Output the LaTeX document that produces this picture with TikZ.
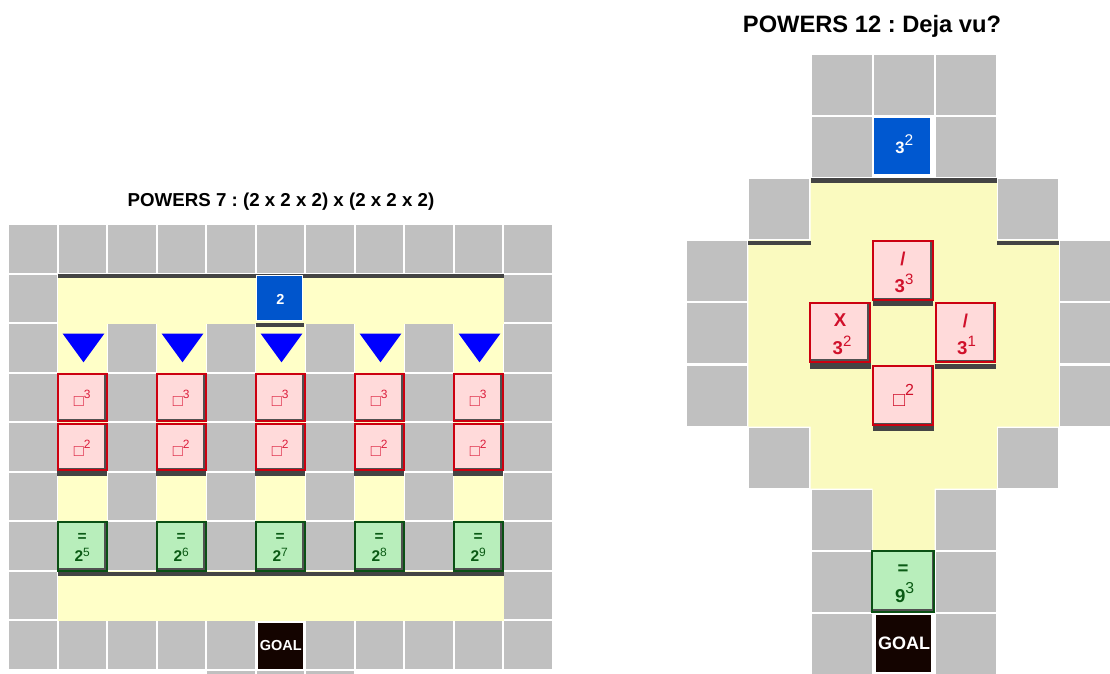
\documentclass[tikz,border=0pt]{standalone}
\usepackage{fontspec}
\setmainfont{Liberation Sans}
\frenchspacing
\definecolor{cellg}{HTML}{C0C0C0}
\definecolor{yelL}{HTML}{FFFFC8}
\definecolor{yelR}{HTML}{FAFABF}
\definecolor{darkl}{HTML}{444444}
\definecolor{bevelc}{HTML}{505050}
\definecolor{pinkf}{HTML}{FFDADA}
\definecolor{redb}{HTML}{CC0010}
\definecolor{redL}{HTML}{DC1E3C}
\definecolor{redR}{HTML}{D0102A}
\definecolor{greenf}{HTML}{B8EEBB}
\definecolor{greenb}{HTML}{0A5014}
\definecolor{greenT}{HTML}{0A5A14}
\definecolor{blueL}{HTML}{0055CC}
\definecolor{blueR}{HTML}{0058D0}
\definecolor{triC}{HTML}{0000FF}
\definecolor{goalC}{HTML}{140400}
\newcommand{\fs}[1]{\fontsize{#1}{#1}\selectfont}
\newcommand{\pwr}[5]{{\fs{#1}\bfseries #2}\raisebox{#3}{\fs{#4}#5}}
\newcommand{\sqp}[4]{{\fs{#1}□}\raisebox{#2}{\fs{#3}#4}}
\tikzset{
  tile/.style={rectangle, inner sep=0pt, line width=2pt,
    path picture={\draw[bevelc, line width=5pt] (path picture bounding box.south west) -- (path picture bounding box.south east) -- (path picture bounding box.north east);}},
  pinktile/.style={tile, fill=pinkf, draw=redb},
  greentile/.style={tile, fill=greenf, draw=greenb},
  bluetile/.style={rectangle, inner sep=0pt, fill=#1, draw=white, line width=1pt},
  goaltile/.style={rectangle, inner sep=0pt, fill=goalC},
  lbl/.style={anchor=base, inner sep=0pt},
  cell/.style={fill=cellg},
  shadow/.style={fill=darkl}
}
\begin{document}
\begin{tikzpicture}[x=1pt,y=-1pt]
\useasboundingbox (0,0) rectangle (1110,673);
\clip (0,0) rectangle (1110,673);

% ================= LEFT PUZZLE =================
\node[lbl] (titleL) at (281,206.5) {\fs{18.7}\bfseries POWERS 7 : (2 x 2 x 2) x (2 x 2 x 2)};

% yellow floor
\fill[yelL] (57.5,274) rectangle (503.5,323.5);
\fill[yelL] (57.5,571) rectangle (503.5,620.5);
\foreach \c in {1,3,5,7,9} \fill[yelL] ({8+\c*49.5},323) rectangle ({57.5+\c*49.5},572);

% gray cells
\foreach \c in {0,...,10} \fill[cell] ({9+\c*49.5},225) rectangle ++(47.5,47.5);
\foreach \r in {1,...,7} {
  \fill[cell] (9,{225+\r*49.5}) rectangle ++(47.5,47.5);
  \fill[cell] (504,{225+\r*49.5}) rectangle ++(47.5,47.5);
}
\foreach \r in {2,...,6} \foreach \c in {2,4,6,8} \fill[cell] ({9+\c*49.5},{225+\r*49.5}) rectangle ++(47.5,47.5);
\foreach \c in {0,1,2,3,4,6,7,8,9,10} \fill[cell] ({9+\c*49.5},621) rectangle ++(47.5,47.5);
\foreach \c in {4,5,6} \fill[cell] ({9+\c*49.5},671) rectangle ++(47.5,3);

% walls
\fill[shadow] (57.5,274) rectangle (503.5,277.5);

% blue start tile
\node[bluetile=blueL, minimum width=46.3pt, minimum height=45.6pt] (bL) at (279.65,298) {};
\fill[shadow] (256,323) rectangle (304,327.3);
\node[lbl, text=white] (bLt) at (280.5,304.7) {\fs{14.5}\bfseries 2};

% columns
\foreach \c/\e in {1/5,3/6,5/7,7/8,9/9} {
  \pgfmathsetmacro\xx{9+\c*49.5}
  \pgfmathsetmacro\mm{\xx+23.75}
  \fill[triC] ({\xx+4.2},333.7) -- ({\xx+45.8},333.7) -- ({\xx+25},362.3) -- cycle;
  \node[pinktile, minimum width=48.5pt, minimum height=47.5pt] (pa\c) at (\mm,397.5) {};
  \node[pinktile, minimum width=48.5pt, minimum height=46.5pt] (pb\c) at (\mm,447.2) {};
  \fill[shadow] ({\xx-1.2},471.3) rectangle ({\xx+48.5},476.3);
  \node[lbl, text=redL] (pat\c) at (\mm,406.3) {\sqp{16.5}{8.3pt}{12}{3}};
  \node[lbl, text=redL] (pbt\c) at (\mm,456.3) {\sqp{16.5}{8.3pt}{12}{2}};
  \node[greentile, minimum width=48.5pt, minimum height=48.2pt] (g\c) at (\mm,546.4) {};
  \node[lbl, text=greenT] (ge\c) at (\mm,541.7) {\fs{15.5}\bfseries =};
  \node[lbl, text=greenT] (gp\c) at (\mm,561.7) {\pwr{15.5}{2}{5pt}{12}{\e}};
}
\fill[shadow] (57.5,572) rectangle (503.5,575.5);

% goal
\node[goaltile, minimum width=44.4pt, minimum height=45.7pt] (goalL) at (280.5,646.15) {};
\node[lbl, text=white] (goalLt) at (280.8,650.7) {\fs{14.5}\bfseries GOAL};

% ================= RIGHT PUZZLE =================
\node[lbl] (titleR) at (872,32) {\fs{23.7}\bfseries POWERS 12 : Deja vu?};

\fill[yelR] (810.5,178.2) -- (996.8,178.2) -- (996.8,240.3) -- (1058.9,240.3) -- (1058.9,426.6)
  -- (996.8,426.6) -- (996.8,488.7) -- (934.7,488.7) -- (934.7,550.8) -- (872.6,550.8)
  -- (872.6,488.7) -- (810.5,488.7) -- (810.5,426.6) -- (748.4,426.6) -- (748.4,240.3)
  -- (810.5,240.3) -- cycle;

\foreach \c/\r in {2/0,3/0,4/0, 2/1,4/1, 1/2,5/2, 0/3,6/3,0/4,6/4,0/5,6/5, 1/6,5/6, 2/7,4/7,2/8,4/8,2/9,4/9}
  \fill[cell] ({687.3+\c*62.1},{55+\r*62.1}) rectangle ++(60,60);

\fill[shadow] (810.5,178.3) rectangle (996.8,182.7);
\fill[shadow] (748.4,240.5) rectangle (810.5,244.8);
\fill[shadow] (996.8,240.5) rectangle (1058.9,244.8);

\node[bluetile=blueR, minimum width=56.7pt, minimum height=56.7pt] (bR) at (902.2,146.2) {};
\node[lbl, text=white] (bRt) at (904.3,153.3) {\pwr{16.5}{3}{8.3pt}{15.5}{2}};

\node[pinktile, minimum width=60pt, minimum height=59pt] (t1) at (902.85,270.85) {};
\fill[shadow] (872.7,301.4) rectangle (933.3,306);
\node[pinktile, minimum width=60pt, minimum height=59pt] (t2) at (839.85,332.35) {};
\fill[shadow] (810,363) rectangle (870.7,369.3);
\node[pinktile, minimum width=59pt, minimum height=59pt] (t3) at (965.5,332.5) {};
\fill[shadow] (935,363.5) rectangle (996,369.3);
\node[pinktile, minimum width=60pt, minimum height=59.5pt] (t4) at (903,395.25) {};
\fill[shadow] (872.5,426) rectangle (933.5,431);

\node[lbl, text=redR] (t1a) at (903,265.5) {\fs{18.6}\bfseries /};
\node[lbl, text=redR] (t1b) at (904,292.3) {\pwr{18.6}{3}{8.3pt}{15}{3}};
\node[lbl, text=redR] (t2a) at (840,326) {\fs{18.6}\bfseries X};
\node[lbl, text=redR] (t2b) at (842,354.3) {\pwr{18.6}{3}{8.3pt}{15}{2}};
\node[lbl, text=redR] (t3a) at (965.5,327) {\fs{18.6}\bfseries /};
\node[lbl, text=redR] (t3b) at (966.5,354.3) {\pwr{18.6}{3}{8.3pt}{15}{1}};
\node[lbl, text=redR] (t4a) at (903.5,406.7) {\sqp{20}{11pt}{16}{2}};

\node[greentile, minimum width=62pt, minimum height=60.7pt] (gR) at (903,581.35) {};
\node[lbl, text=greenT] (gRa) at (903,574.4) {\fs{18.6}\bfseries =};
\node[lbl, text=greenT] (gRb) at (904.6,602) {\pwr{18.6}{9}{8.7pt}{15.8}{3}};

\node[goaltile, minimum width=54.7pt, minimum height=57pt] (goalR) at (903.35,643.5) {};
\node[lbl, text=white] (goalRt) at (904.2,649.3) {\fs{18}\bfseries GOAL};
\end{tikzpicture}
\end{document}
